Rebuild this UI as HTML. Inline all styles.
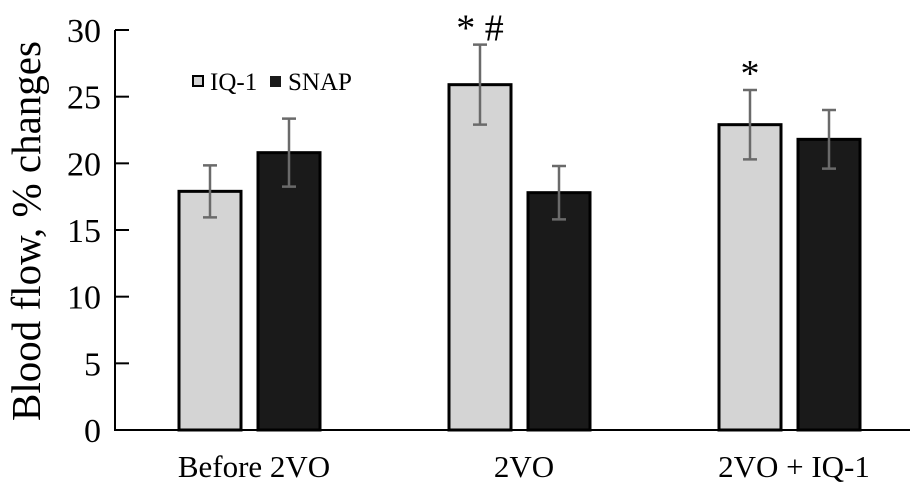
<!DOCTYPE html>
<html><head><meta charset="utf-8"><style>
body{margin:0;background:#fff}
svg{display:block;font-family:"Liberation Serif",serif}
</style></head><body>
<svg id="chart" width="913" height="488" viewBox="0 0 913 488" xmlns="http://www.w3.org/2000/svg"></svg>
<script>
const categories=["Before 2VO","2VO","2VO + IQ-1"];
const iqValues=[17.9,25.9,22.9];
const iqErrors=[1.95,3.0,2.6];
const snapValues=[20.8,17.8,21.8];
const snapErrors=[2.55,2.0,2.2];
const yTicks=[0,5,10,15,20,25,30];
const marks=["","* #","*"];
const NS="http://www.w3.org/2000/svg";
const svg=document.getElementById('chart');
const y=v=>430-v*13.333;
const groupX=i=>179+i*270;
function mk(t,a,txt){const e=document.createElementNS(NS,t);for(const k in a)e.setAttribute(k,a[k]);if(txt!==undefined)e.textContent=txt;svg.appendChild(e);return e;}
let e;
e=mk('line',{x1:115,y1:30,x2:115,y2:431,stroke:'#000','stroke-width':2});


e=mk('line',{x1:114,y1:430,x2:910,y2:430,stroke:'#000','stroke-width':2});


yTicks.forEach(v=>{
 e=mk('line',{x1:115,y1:y(v),x2:129,y2:y(v),stroke:'#000','stroke-width':2});
 
 
 e=mk('text',{x:101,y:y(v)+12,'text-anchor':'end','font-size':34},String(v));
 
 
});
e=mk('text',{x:0,y:0,transform:'translate(40,231) rotate(-90)','text-anchor':'middle','font-size':41},'Blood flow, % changes');


function bar(x,v,err,fill,name){
 e=mk('rect',{x:x,y:y(v),width:62,height:430-y(v),fill:fill,stroke:'#000','stroke-width':3});
 
 
 const cx=x+31;
 e=mk('path',{d:`M${cx},${y(v+err)}V${y(v-err)}M${cx-7},${y(v+err)}H${cx+7}M${cx-7},${y(v-err)}H${cx+7}`,stroke:'#6a6a6a','stroke-width':2.5,fill:'none'});
 
 
}
categories.forEach((c,i)=>{
 const gx=groupX(i);
 bar(gx,iqValues[i],iqErrors[i],'#d4d4d4','bar-iq1-'+i);
 bar(gx+79,snapValues[i],snapErrors[i],'#1a1a1a','bar-snap-'+i);
 e=mk('text',{x:gx+75,y:477,'text-anchor':'middle','font-size':31},c);
 
 
 if(marks[i]){
  e=mk('text',{x:gx+31,y:y(iqValues[i]+iqErrors[i])-4,'text-anchor':'middle','font-size':38},marks[i]);
  
  
 }
});
e=mk('rect',{x:193,y:76,width:10,height:10,fill:'#d4d4d4',stroke:'#000','stroke-width':2});


e=mk('text',{x:210,y:90,'font-size':25},'IQ-1');


e=mk('rect',{x:270,y:76,width:11,height:11,fill:'#1a1a1a'});


e=mk('text',{x:288,y:90,'font-size':25},'SNAP');


</script>
</body></html>
